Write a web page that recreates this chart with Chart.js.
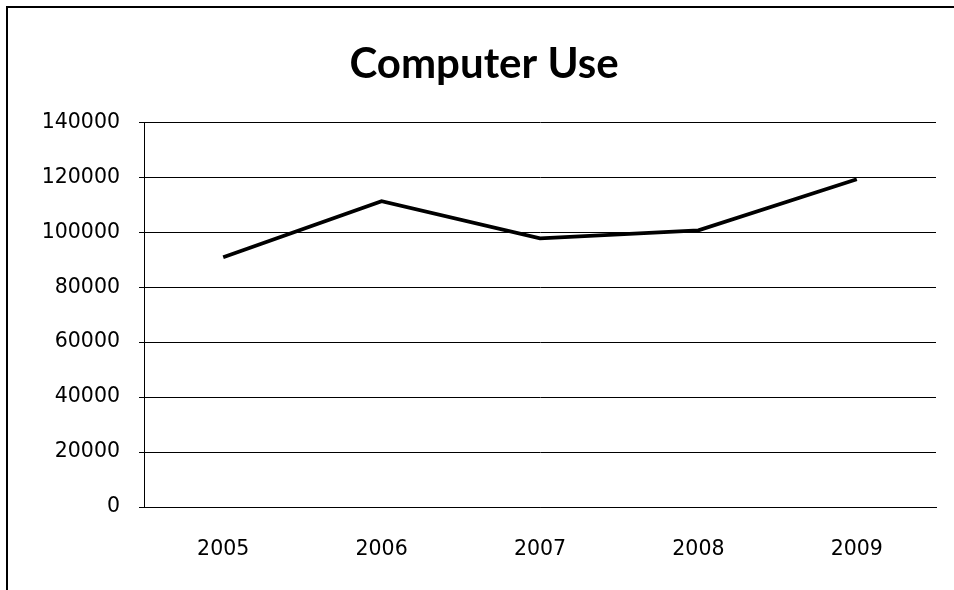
<!DOCTYPE html>
<html>
<head>
<meta charset="utf-8">
<script src="https://cdn.jsdelivr.net/npm/chart.js@4/dist/chart.umd.min.js"></script>
<style>
  html, body { margin: 0; padding: 0; background: #fff; overflow: hidden; }
  #wrap { position: relative; width: 954px; height: 590px; }
  #frame { position: absolute; left: 6px; top: 6px; width: 980px; height: 620px;
           border-left: 2px solid #000; border-top: 2px solid #000; }
  canvas { position: absolute; left: 0; top: 0; }
</style>
</head>
<body>
<div id="wrap">
  <div id="frame"></div>
  <canvas id="chart" width="954" height="590"></canvas>
</div>
<script>
const years = ['2005', '2006', '2007', '2008', '2009'];
const computerUse = [90900, 111300, 97800, 100700, 119300];
const yTicks = [0, 20000, 40000, 60000, 80000, 100000, 120000, 140000];

const TITLE_FONT = "'Lato', 'Open Sans', sans-serif";
const TICK_FONT = "'DejaVu Sans', 'Open Sans', sans-serif";

new Chart(document.getElementById('chart'), {
  type: 'line',
  data: {
    labels: years,
    datasets: [{
      label: 'Computer Use',
      data: computerUse,
      borderColor: '#000',
      borderWidth: 3.8,
      pointRadius: 0,
      tension: 0,
      fill: false
    }]
  },
  options: {
    responsive: false,
    animation: false,
    layout: { padding: { left: 32, right: 18, top: 0, bottom: 0 } },
    plugins: {
      legend: { display: false },
      tooltip: { enabled: false },
      title: {
        display: true,
        text: 'Computer Use',
        color: '#000',
        font: { family: TITLE_FONT, size: 42, weight: 'bold', lineHeight: 1.2 },
        padding: { top: 39, bottom: 33 }
      }
    },
    scales: {
      x: {
        offset: true,
        grid: { display: false },
        border: { display: true, color: '#000', width: 1 },
        ticks: { color: '#000', font: { family: TICK_FONT, size: 20.5 }, padding: 22 },
        afterFit: s => { s.height = 83; }
      },
      y: {
        min: 0,
        max: 140000,
        afterBuildTicks: s => { s.ticks = yTicks.map(v => ({ value: v })); },
        grid: { color: '#000', lineWidth: 1, tickLength: 5, drawTicks: true },
        border: { display: true, color: '#000', width: 1 },
        ticks: {
          color: '#000',
          font: { family: TICK_FONT, size: 20.5 },
          padding: 19,
          callback: v => String(v)
        },
        afterFit: s => { s.width = 112; }
      }
    }
  }
});
</script>
</body>
</html>
